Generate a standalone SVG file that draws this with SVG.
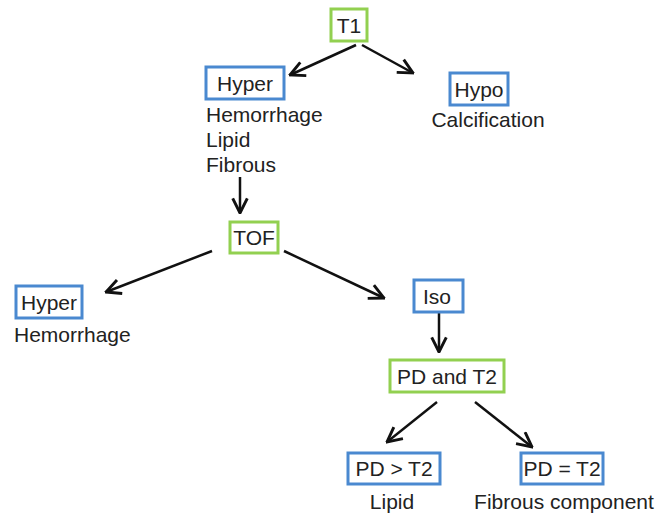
<svg xmlns="http://www.w3.org/2000/svg" width="670" height="513" viewBox="0 0 670 513">
<defs>
<style>
text{font-family:"Liberation Sans",Arial,sans-serif;font-size:21px;fill:#222}
.g{fill:#fff;stroke:#92d050;stroke-width:3}
.b{fill:#fff;stroke:#4a89d0;stroke-width:3}
.c{stroke:#111;stroke-width:2.5;fill:none;marker-end:url(#ah)}
</style>
<marker id="ah" viewBox="0 0 12 12" refX="11" refY="6" markerWidth="7" markerHeight="7" orient="auto" markerUnits="strokeWidth">
<polyline points="1,1 11,6 1,11" fill="none" stroke="#111" stroke-width="2"/>
</marker>
</defs>
<rect width="670" height="513" fill="#fff"/>
<g id="connectors">
<line class="c" x1="356" y1="45" x2="290" y2="75"/>
<line class="c" x1="362" y1="45" x2="413" y2="73"/>
<line class="c" x1="240" y1="177" x2="240" y2="213"/>
<line class="c" x1="212" y1="251" x2="106" y2="292"/>
<line class="c" x1="284" y1="251" x2="384" y2="298"/>
<line class="c" x1="439" y1="313" x2="439" y2="352"/>
<line class="c" x1="437" y1="402" x2="387" y2="442"/>
<line class="c" x1="475" y1="402" x2="532" y2="447"/>
</g>
<g id="t1"><rect class="g" x="331" y="9" width="36" height="32"/><text x="349" y="33" text-anchor="middle">T1</text></g>
<g id="hyper1"><rect class="b" x="206" y="67" width="78" height="32"/><text x="245" y="91" text-anchor="middle">Hyper</text>
<text x="206" y="122">Hemorrhage</text><text x="206" y="147">Lipid</text><text x="206" y="172">Fibrous</text></g>
<g id="hypo"><rect class="b" x="450" y="73" width="58" height="32"/><text x="479" y="97" text-anchor="middle">Hypo</text>
<text x="488" y="127" text-anchor="middle">Calcification</text></g>
<g id="tof"><rect class="g" x="230" y="222" width="48" height="31"/><text x="254" y="245" text-anchor="middle">TOF</text></g>
<g id="hyper2"><rect class="b" x="16" y="286" width="66" height="32"/><text x="49" y="310" text-anchor="middle">Hyper</text>
<text x="14" y="342">Hemorrhage</text></g>
<g id="iso"><rect class="b" x="414" y="280" width="49" height="32"/><text x="437" y="304" text-anchor="middle">Iso</text></g>
<g id="pdt2"><rect class="g" x="390" y="360" width="114" height="32"/><text x="447" y="384" text-anchor="middle">PD and T2</text></g>
<g id="pdgt"><rect class="b" x="348" y="453" width="92" height="31"/><text x="394" y="476" text-anchor="middle">PD &gt; T2</text>
<text x="392" y="509" text-anchor="middle">Lipid</text></g>
<g id="pdeq"><rect class="b" x="521" y="453" width="82" height="31"/><text x="562" y="476" text-anchor="middle">PD = T2</text>
<text x="564" y="509" text-anchor="middle">Fibrous component</text></g>
</svg>
